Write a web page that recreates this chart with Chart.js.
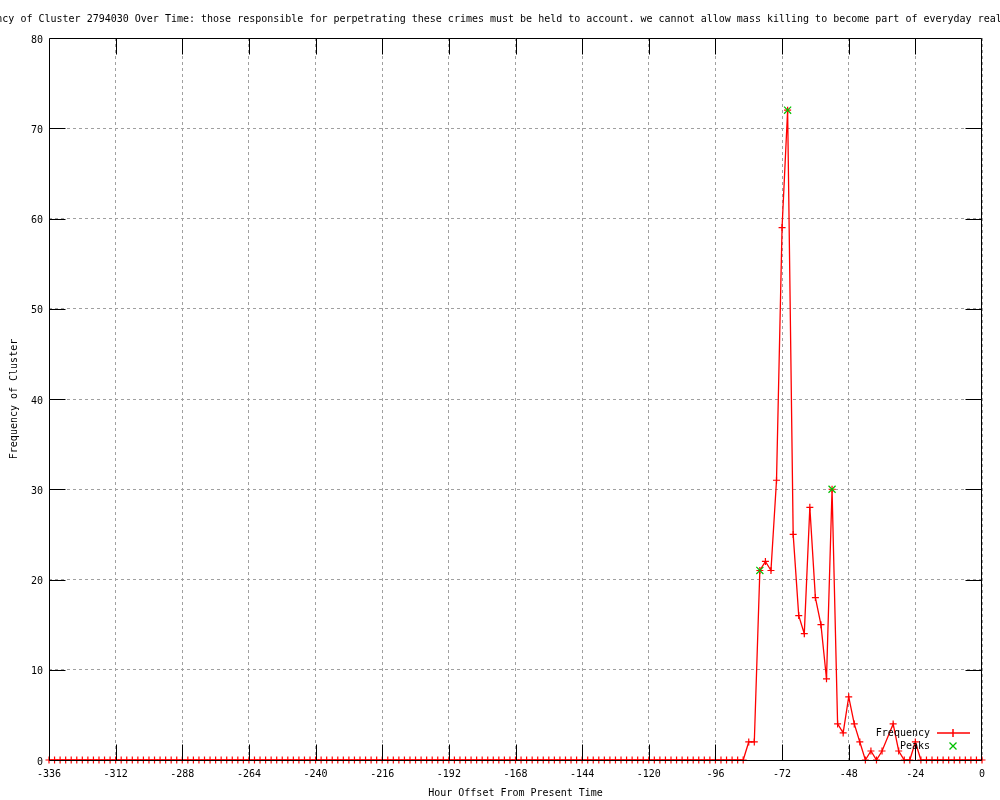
<!DOCTYPE html>
<html>
<head>
<meta charset="utf-8">
<script src="https://cdn.jsdelivr.net/npm/chart.js@4/dist/chart.umd.min.js"></script>
<style>
html,body{margin:0;padding:0;background:#ffffff;}
canvas{display:block;}
</style>
</head>
<body>
<canvas id="c" width="1000" height="800"></canvas>
<script>
// ---------- data ----------
const chartTitle = "Frequency of Cluster 2794030 Over Time: those responsible for perpetrating these crimes must be held to account. we cannot allow mass killing to become part of everyday reality";
const xAxisTitle = "Hour Offset From Present Time";
const yAxisTitle = "Frequency of Cluster";
const seriesNames = ["Frequency", "Peaks"];

const hours = [
  -336,-334,-332,-330,-328,-326,-324,-322,-320,-318,-316,-314,
  -312,-310,-308,-306,-304,-302,-300,-298,-296,-294,-292,-290,
  -288,-286,-284,-282,-280,-278,-276,-274,-272,-270,-268,-266,
  -264,-262,-260,-258,-256,-254,-252,-250,-248,-246,-244,-242,
  -240,-238,-236,-234,-232,-230,-228,-226,-224,-222,-220,-218,
  -216,-214,-212,-210,-208,-206,-204,-202,-200,-198,-196,-194,
  -192,-190,-188,-186,-184,-182,-180,-178,-176,-174,-172,-170,
  -168,-166,-164,-162,-160,-158,-156,-154,-152,-150,-148,-146,
  -144,-142,-140,-138,-136,-134,-132,-130,-128,-126,-124,-122,
  -120,-118,-116,-114,-112,-110,-108,-106,-104,-102,-100,-98,
  -96,-94,-92,-90,-88,-86,-84,-82,-80,-78,-76,-74,
  -72,-70,-68,-66,-64,-62,-60,-58,-56,-54,-52,-50,
  -48,-46,-44,-42,-40,-38,-36,-32,-30,-28,-26,-24,
  -22,-20,-18,-16,-14,-12,-10,-8,-6,-4,-2,0
];
const counts = [
  0,0,0,0,0,0,0,0,0,0,0,0,
  0,0,0,0,0,0,0,0,0,0,0,0,
  0,0,0,0,0,0,0,0,0,0,0,0,
  0,0,0,0,0,0,0,0,0,0,0,0,
  0,0,0,0,0,0,0,0,0,0,0,0,
  0,0,0,0,0,0,0,0,0,0,0,0,
  0,0,0,0,0,0,0,0,0,0,0,0,
  0,0,0,0,0,0,0,0,0,0,0,0,
  0,0,0,0,0,0,0,0,0,0,0,0,
  0,0,0,0,0,0,0,0,0,0,0,0,
  0,0,0,0,0,0,2,2,21,22,21,31,
  59,72,25,16,14,28,18,15,9,30,4,3,
  7,4,2,0,1,0,1,4,1,0,0,2,
  0,0,0,0,0,0,0,0,0,0,0,0
];
const peakHours = [-80, -70, -54];
const peakCounts = [21, 72, 30];

const xMin = -336, xMax = 0, xStep = 24;
const yMin = 0, yMax = 80, yStep = 10;

// ---------- styling ----------
const FONT_FAMILY = '"DejaVu Sans Mono", "Liberation Mono", monospace';
const FONT = { family: FONT_FAMILY, size: 10 };
Chart.defaults.font.family = FONT_FAMILY;
Chart.defaults.font.size = 10;
Chart.defaults.color = '#000000';

const RED = '#ff0000';
const GREEN = '#00c000';
const GRID = '#a0a0a0';
const TICK_LEN = 16;

const freqPoints = hours.map((h, i) => ({ x: h, y: counts[i] }));
const peakPoints = peakHours.map((h, i) => ({ x: h, y: peakCounts[i] }));

// frame + inward ticks (gnuplot style), drawn over data
const framePlugin = {
  id: 'frame',
  afterDatasetsDraw(chart) {
    const { ctx, chartArea: a, scales: { x, y } } = chart;
    const L = Math.round(a.left) + 0.5, R = Math.round(a.right) - 0.5;
    const T = Math.round(a.top) + 0.5, B = Math.round(a.bottom) + 0.5;
    ctx.save();
    ctx.strokeStyle = '#000000';
    ctx.lineWidth = 1;
    ctx.beginPath();
    ctx.rect(L, T, R - L, B - T);
    x.ticks.forEach(t => {
      const px = Math.round(x.getPixelForValue(t.value)) + 0.5;
      if (px <= L + 1 || px >= R - 1) return;
      ctx.moveTo(px, B); ctx.lineTo(px, B - TICK_LEN);
      ctx.moveTo(px, T); ctx.lineTo(px, T + TICK_LEN);
    });
    y.ticks.forEach(t => {
      const py = Math.round(y.getPixelForValue(t.value)) + 0.5;
      if (py <= T + 1 || py >= B - 1) return;
      ctx.moveTo(L, py); ctx.lineTo(L + TICK_LEN, py);
      ctx.moveTo(R, py); ctx.lineTo(R - TICK_LEN, py);
    });
    ctx.stroke();
    ctx.restore();
  }
};

// title (not squeezed) + gnuplot-style key
const textPlugin = {
  id: 'texts',
  afterDraw(chart) {
    const { ctx, chartArea: a } = chart;
    ctx.save();
    ctx.font = '10px ' + FONT_FAMILY;
    ctx.fillStyle = '#000000';
    ctx.textBaseline = 'middle';
    ctx.textAlign = 'center';
    ctx.fillText(chartTitle, (a.left + a.right) / 2 - 25.5, 19);

    // key
    const textRight = a.right - 52;
    const sx0 = a.right - 45, sx1 = a.right - 12, sxm = a.right - 29;
    const y1 = a.bottom - 27, y2 = a.bottom - 14;
    ctx.textAlign = 'right';
    ctx.fillText(seriesNames[0], textRight, y1);
    ctx.fillText(seriesNames[1], textRight, y2);
    ctx.restore();

    ctx.save();
    ctx.lineWidth = 1.5;
    ctx.strokeStyle = RED;
    ctx.beginPath();
    ctx.moveTo(sx0, y1);
    ctx.lineTo(sx1, y1);
    ctx.moveTo(sxm, y1 - 4);
    ctx.lineTo(sxm, y1 + 4);
    ctx.stroke();
    ctx.restore();

    ctx.save();
    ctx.lineWidth = 1.3;
    ctx.strokeStyle = GREEN;
    ctx.beginPath();
    ctx.moveTo(sxm - 3.5, y2 - 3.5); ctx.lineTo(sxm + 3.5, y2 + 3.5);
    ctx.moveTo(sxm - 3.5, y2 + 3.5); ctx.lineTo(sxm + 3.5, y2 - 3.5);
    ctx.stroke();
    ctx.restore();
  }
};

new Chart(document.getElementById('c'), {
  type: 'line',
  data: {
    datasets: [
      {
        label: seriesNames[1],
        data: peakPoints,
        showLine: false,
        pointStyle: 'crossRot',
        pointRadius: 5,
        pointBorderWidth: 1.2,
        borderColor: GREEN,
        backgroundColor: GREEN,
        clip: false,
        order: 0
      },
      {
        label: seriesNames[0],
        data: freqPoints,
        borderColor: RED,
        backgroundColor: RED,
        borderWidth: 1.3,
        tension: 0,
        pointStyle: 'cross',
        pointRadius: 3.5,
        pointBorderWidth: 1.2,
        pointBorderColor: RED,
        clip: false,
        order: 1
      }
    ]
  },
  options: {
    animation: false,
    responsive: false,
    devicePixelRatio: 1,
    events: [],
    layout: { padding: { top: 38, right: 18, left: 0, bottom: 0 } },
    plugins: {
      legend: { display: false },
      title: { display: false },
      tooltip: { enabled: false }
    },
    scales: {
      x: {
        type: 'linear',
        min: xMin, max: xMax,
        ticks: { stepSize: xStep, padding: 8, color: '#000000', font: FONT, maxRotation: 0, autoSkip: false },
        grid: { color: GRID, lineWidth: 1, drawTicks: false },
        border: { display: false, dash: [3, 3] },
        title: { display: true, text: xAxisTitle, color: '#000000', font: FONT, padding: { top: 0, bottom: 1 } },
        afterFit(s) { s.height = 40; }
      },
      y: {
        type: 'linear',
        min: yMin, max: yMax,
        ticks: { stepSize: yStep, padding: 6, color: '#000000', font: FONT, labelOffset: 2 },
        grid: { color: GRID, lineWidth: 1, drawTicks: false },
        border: { display: false, dash: [3, 3] },
        title: { display: true, text: yAxisTitle, color: '#000000', font: FONT, padding: { top: 8, bottom: 0 } },
        afterFit(s) { s.width = 49; }
      }
    }
  },
  plugins: [framePlugin, textPlugin]
});
</script>
</body>
</html>
